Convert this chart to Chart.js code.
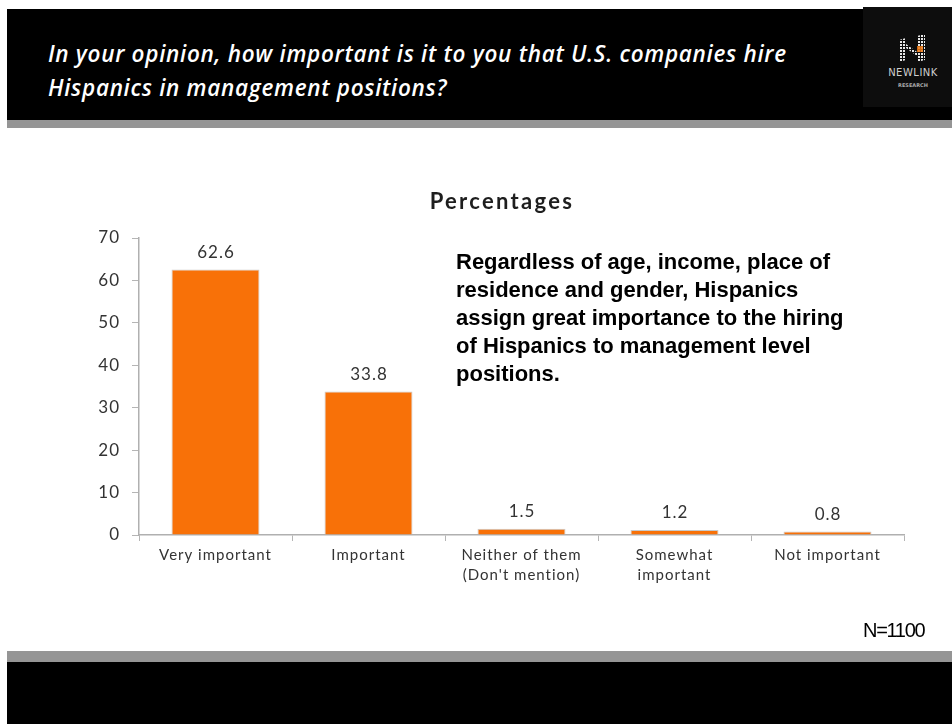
<!DOCTYPE html>
<html>
<head>
<meta charset="utf-8">
<script src="https://cdn.jsdelivr.net/npm/chart.js@4.4.0/dist/chart.umd.min.js"></script>
<style>
  html, body { margin: 0; padding: 0; background: #fff; }
  #page { position: relative; width: 952px; height: 724px; overflow: hidden; }
  .band { position: absolute; left: 7px; right: 0; }
  #topBlack { top: 9px; height: 111px; background: #000; }
  #topGrey { top: 120px; height: 8px; background: #959595; }
  #botGrey { top: 651px; height: 11px; background: #959595; }
  #botBlack { top: 662px; height: 62px; background: #000; }
  #question {
    position: absolute; left: 48px; top: 37px; width: 820px;
    color: #fff; font: italic 600 22.5px/34px "Open Sans", sans-serif; letter-spacing: 0.7px;
  }
  #logo { position: absolute; left: 863px; top: 7px; width: 89px; height: 100px; background: #0d0d0d; }
  #logo .name { position: absolute; left: 0; width: 100px; top: 60px; text-align: center; color: #cfcfcf; font: 10px "DejaVu Sans", sans-serif; letter-spacing: 0.5px; }
  #logo .sub { position: absolute; left: 0; width: 100px; top: 75px; text-align: center; color: #aaa; font: bold 5px "DejaVu Sans", sans-serif; }
  #logo svg { position: absolute; left: 34px; top: 25px; }
  #chart { position: absolute; left: 0; top: 0; z-index: 1; }
  #heading {
    position: absolute; left: 302px; width: 400px; top: 187px; z-index: 2; text-align: center;
    color: #1e1e1e; font: bold 22px "Lato", sans-serif; letter-spacing: 2.3px;
  }
  #note {
    position: absolute; left: 456px; top: 248px; width: 440px; z-index: 2;
    color: #000; font: bold 22px/28px "Liberation Sans", Arial, sans-serif;
  }
  #sample {
    position: absolute; left: 863px; top: 619px; z-index: 2;
    color: #000; font: 20px "Liberation Sans", Arial, sans-serif; letter-spacing: -1.3px;
  }
</style>
</head>
<body>
<div id="page">
  <div class="band" id="topBlack"></div>
  <div class="band" id="topGrey"></div>
  <div class="band" id="botGrey"></div>
  <div class="band" id="botBlack"></div>
  <div id="question">In your opinion, how important is it to you that U.S. companies hire<br>Hispanics in management positions?</div>
  <div id="logo">
    <svg width="36" height="32" viewBox="0 0 36 32">
      <defs>
        <pattern id="dots" width="3" height="3" patternUnits="userSpaceOnUse">
          <rect width="2" height="2" fill="#e8e8e8"/>
        </pattern>
      </defs>
      <path d="M2 8 L9 6 L9 12 L20 20 L20 4 L28 2 L28 28 L20 30 L20 24 L9 16 L9 28 L2 30 Z" fill="url(#dots)"/>
      <rect x="20" y="14" width="6" height="6" fill="#f07a14" opacity="0.85"/>
    </svg>
    <div class="name">NEWLINK</div>
    <div class="sub">RESEARCH</div>
  </div>
  <canvas id="chart" width="952" height="724"></canvas>
  <div id="heading">Percentages</div>
  <div id="note">Regardless of age, income, place of<br>residence and gender, Hispanics<br>assign great importance to the hiring<br>of Hispanics to management level<br>positions.</div>
  <div id="sample">N=1100</div>
</div>
<script>
// Kategori jawaban dan persentasenya
const categories = [
  ['Very important'],
  ['Important'],
  ['Neither of them', "(Don't mention)"],
  ['Somewhat', 'important'],
  ['Not important'],
];
const percentages = [62.6, 33.8, 1.5, 1.2, 0.8];
const yTicks = [0, 10, 20, 30, 40, 50, 60, 70];

const chartFont = 'Lato, "DejaVu Sans", sans-serif';
const tracking = '1px';

// Huruf pada grafik dibuat sedikit renggang
const letterSpacing = {
  id: 'letterSpacing',
  beforeLayout(chart) { chart.ctx.letterSpacing = tracking; },
  beforeDraw(chart) { chart.ctx.letterSpacing = tracking; },
};

// Menulis nilai di atas setiap batang
const valueLabels = {
  id: 'valueLabels',
  afterDatasetsDraw(chart) {
    const ctx = chart.ctx;
    const meta = chart.getDatasetMeta(0);
    ctx.save();
    ctx.font = '17px ' + chartFont;
    ctx.fillStyle = '#333';
    ctx.textAlign = 'center';
    ctx.textBaseline = 'middle';
    meta.data.forEach((bar, i) => {
      ctx.fillText(percentages[i].toFixed(1), bar.x + 0.5, bar.y - 17);
    });
    ctx.restore();
  },
};

const ctx = document.getElementById('chart').getContext('2d');
const chart = new Chart(ctx, {
  type: 'bar',
  data: {
    labels: categories,
    datasets: [
      {
        data: percentages,
        backgroundColor: '#f87108',
        borderColor: '#c9c9c9',
        borderWidth: 1,
        borderSkipped: 'bottom',
        categoryPercentage: 1,
        barPercentage: 0.575,
      },
    ],
  },
  options: {
    responsive: false,
    animation: false,
    layout: { padding: { top: 238, left: 0, right: 48, bottom: 129 } },
    plugins: {
      legend: { display: false },
      tooltip: { enabled: false },
      title: { display: false },
    },
    scales: {
      x: {
        grid: {
          offset: true,
          drawOnChartArea: false,
          tickLength: 6,
          color: '#b5b5b5',
        },
        border: { color: '#b0b0b0', width: 1.5 },
        ticks: {
          color: '#333',
          padding: 4,
          maxRotation: 0,
          font: { family: chartFont, size: 15, lineHeight: 1.35 },
        },
        afterFit(scale) { scale.height = 60; },
      },
      y: {
        min: 0,
        max: 70,
        afterBuildTicks(scale) { scale.ticks = yTicks.map((v) => ({ value: v })); },
        grid: {
          drawOnChartArea: false,
          tickLength: 7,
          color: '#b5b5b5',
        },
        border: { color: '#b0b0b0', width: 1.5 },
        ticks: {
          color: '#333',
          padding: 12,
          font: { family: chartFont, size: 17 },
        },
        afterFit(scale) { scale.width = 139; },
      },
    },
  },
  plugins: [letterSpacing, valueLabels],
});
</script>
</body>
</html>
